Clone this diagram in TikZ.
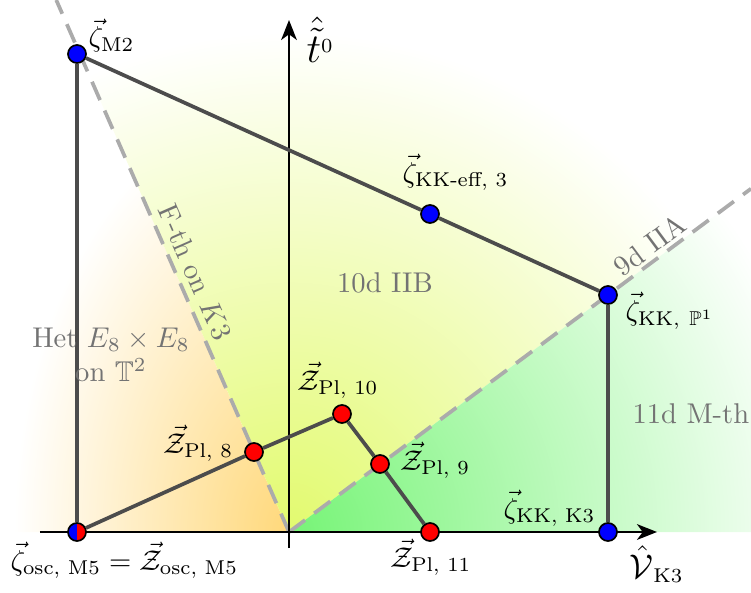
\documentclass[tikz,border=0pt]{standalone}
\usepackage{amsmath}
\usepackage{amssymb}
\usepackage{xcolor}
\usetikzlibrary{arrows.meta}

\definecolor{hetorange}{RGB}{255,216,122}
\definecolor{iibyellow}{RGB}{226,250,110}
\definecolor{mthgreen}{RGB}{118,244,118}

\tikzstyle{vac-dot} = [circle, draw=black, line width=0.6pt,
    minimum size=6.3pt, inner sep=0pt]
\tikzstyle{poly-line} = [draw=black!70, line width=1.3pt]
\tikzstyle{phase-line} = [draw=black!33, line width=1.3pt,
    dash pattern=on 7pt off 4pt]
\tikzstyle{phase-label} = [text=black!55, inner sep=0pt]
\tikzstyle{axis-line} = [draw=black, line width=0.8pt,
    -{Stealth[length=7pt,width=5.5pt,inset=2pt]}]
\tikzstyle{vac-label} = [inner sep=0pt, anchor=base west]
\newcommand{\vZ}{\vec{\mathcal{Z}}}

\begin{document}
\begin{tikzpicture}[x=0.35pt, y=0.35pt]
\useasboundingbox (-289,-60) rectangle (462,532);

\coordinate (o) at (0,0);
\coordinate (fth) at (-232.75,532);
\coordinate (iia) at (462,343.3);

% shaded phases
\begin{scope}
\clip (o) -- (-289,0) -- (-289,532) -- (fth) -- cycle;
\shade[inner color=hetorange, outer color=white] (o) ellipse (275 and 430);
\end{scope}
\begin{scope}
\clip (o) -- (fth) -- (462,532) -- (iia) -- cycle;
\shade[inner color=iibyellow, outer color=white] (o) circle (500);
\end{scope}
\begin{scope}
\clip (o) -- (iia) -- (462,0) -- cycle;
\shade[inner color=mthgreen, outer color=white] (o) circle (540);
\end{scope}

\draw[phase-line] (o) -- (fth);
\draw[phase-line] (o) -- (iia);

% axes
\coordinate (vleft) at (-249,0);
\coordinate (vright) at (368,0);
\coordinate (tbot) at (0,-16);
\coordinate (ttop) at (0,512);
\draw[axis-line] (vleft) -- (vright);
\draw[axis-line] (tbot) -- (ttop);

% vacua
\node[vac-dot, fill=blue] (zM2) at (-212,478) {};
\node[vac-dot, fill=red, path picture={\fill[blue]
    (path picture bounding box.south west) rectangle
    (path picture bounding box.north);}] (zOsc) at (-212,0) {};
\node[vac-dot, fill=blue] (zKKeff) at (141,318) {};
\node[vac-dot, fill=blue] (zKKP) at (319,237) {};
\node[vac-dot, fill=blue] (zKKK) at (319,0) {};
\node[vac-dot, fill=red] (zPl8) at (-35,80) {};
\node[vac-dot, fill=red] (zPl10) at (53,118) {};
\node[vac-dot, fill=red] (zPl9) at (91,68) {};
\node[vac-dot, fill=red] (zPl11) at (141,0) {};

\draw[poly-line] (zOsc) -- (zM2) -- (zKKeff) -- (zKKP) -- (zKKK);
\draw[poly-line] (zOsc) -- (zPl8) -- (zPl10) -- (zPl9) -- (zPl11);

% labels
\node[vac-label] at (-201,485) {$\vec\zeta_{\mathrm{M2}}$};
\node[vac-label] at (17,469) {\Large$\hat{\tilde{t}}$\normalsize$^0$};
\node[vac-label] at (113,350) {$\vec\zeta_{\text{KK-eff, 3}}$};
\node[vac-label] at (336,212) {$\vec\zeta_{\mathrm{KK},\ \mathbb{P}^1}$};
\node[vac-label] at (214,14) {$\vec\zeta_{\text{KK, K3}}$};
\node[vac-label] at (340,-46)
    {\large$\hat{\mathcal{V}}$\normalsize$_{\mathrm{K3}}$};
\node[vac-label] at (101,-35) {$\vZ_{\text{Pl, 11}}$};
\node[vac-label] at (111,62) {$\vZ_{\text{Pl, 9}}$};
\node[vac-label] at (8,142) {$\vZ_{\text{Pl, 10}}$};
\node[vac-label] at (-126,79) {$\vZ_{\text{Pl, 8}}$};
\node[vac-label] at (-279,-38)
    {$\vec\zeta_{\text{osc, M5}} = \vZ_{\text{osc, M5}}$};

\node[phase-label] at (96,249) {10d IIB};
\node[phase-label, align=center] at (-178,177)
    {Het $E_8\times E_8$\\ on $\mathbb{T}^2$};
\node[phase-label, anchor=base west] at (343,109) {11d M-th};
\node[phase-label, rotate=-66.4] at (-94,260) {F-th on $K3$};
\node[phase-label, rotate=36.6] at (361,287) {9d IIA};
\end{tikzpicture}
\end{document}
